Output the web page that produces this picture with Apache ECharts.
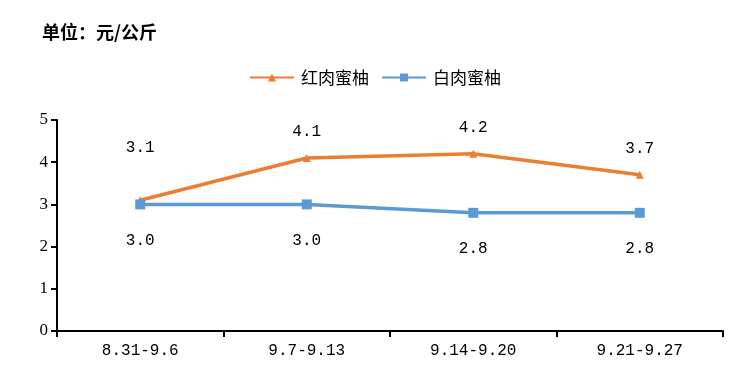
<!DOCTYPE html>
<html><head><meta charset="utf-8">
<script src="https://cdn.jsdelivr.net/npm/echarts@6/dist/echarts.min.js"></script>
<style>html,body{margin:0;padding:0;background:#fff}#c{width:748px;height:380px}</style>
</head><body><div id="c"></div>
<script>
const categories = ['8.31-9.6', '9.7-9.13', '9.14-9.20', '9.21-9.27'];
const redPomelo = [3.1, 4.1, 4.2, 3.7];
const whitePomelo = [3.0, 3.0, 2.8, 2.8];
const seriesNames = ['红肉蜜柚', '白肉蜜柚'];
const yTicks = [0, 1, 2, 3, 4, 5];

const numFont = '"Liberation Mono", "Noto Sans CJK SC", monospace';
const cjkFont = '"Noto Sans CJK SC", sans-serif';
const chart = echarts.init(document.getElementById('c'));
chart.setOption({
  animation: false,
  title: {
    text: '单位：元/公斤', left: 37, top: 18,
    textStyle: { fontSize: 18, fontWeight: 'bold', color: '#000', fontFamily: cjkFont }
  },
  legend: {
    top: 64, left: 244, itemGap: 12, itemWidth: 44, itemHeight: 10,
    textStyle: { fontSize: 17, color: '#000', fontFamily: cjkFont, padding: [0, 0, 0, 2] },
    data: seriesNames
  },
  grid: { left: 57, right: 25, top: 120, bottom: 49 },
  xAxis: {
    type: 'category', data: categories, boundaryGap: true,
    axisLine: { lineStyle: { color: '#000', width: 2 } },
    axisTick: { show: true, length: 6, lineStyle: { color: '#000', width: 2 } },
    axisLabel: { color: '#000', fontSize: 16, margin: 12, fontFamily: numFont }
  },
  yAxis: {
    type: 'value', min: yTicks[0], max: yTicks[yTicks.length - 1], interval: 1,
    splitLine: { show: false },
    axisLine: { show: true, lineStyle: { color: '#000', width: 2 } },
    axisTick: { show: true, length: 6, lineStyle: { color: '#000', width: 2 } },
    axisLabel: { color: '#000', fontSize: 17, margin: 9, fontFamily: '"Liberation Serif", serif' }
  },
  series: [
    {
      name: seriesNames[0], type: 'line', data: redPomelo.map((v, i) => i === 0 ? { value: v, label: { offset: [0, -26] } } : v),
      symbol: 'triangle', symbolSize: 8,
      lineStyle: { color: '#ED7D31', width: 3.5 },
      itemStyle: { color: '#ED7D31' },
      label: { show: true, position: 'top', distance: 14, color: '#000', fontSize: 16, fontFamily: numFont,
        formatter: p => p.value.toFixed(1) }
    },
    {
      name: seriesNames[1], type: 'line', data: whitePomelo,
      symbol: 'rect', symbolSize: 10,
      lineStyle: { color: '#5B9BD5', width: 3.5 },
      itemStyle: { color: '#5B9BD5' },
      label: { show: true, position: 'bottom', distance: 23, color: '#000', fontSize: 16, fontFamily: numFont,
        formatter: p => p.value.toFixed(1) }
    }
  ]
});
</script></body></html>
